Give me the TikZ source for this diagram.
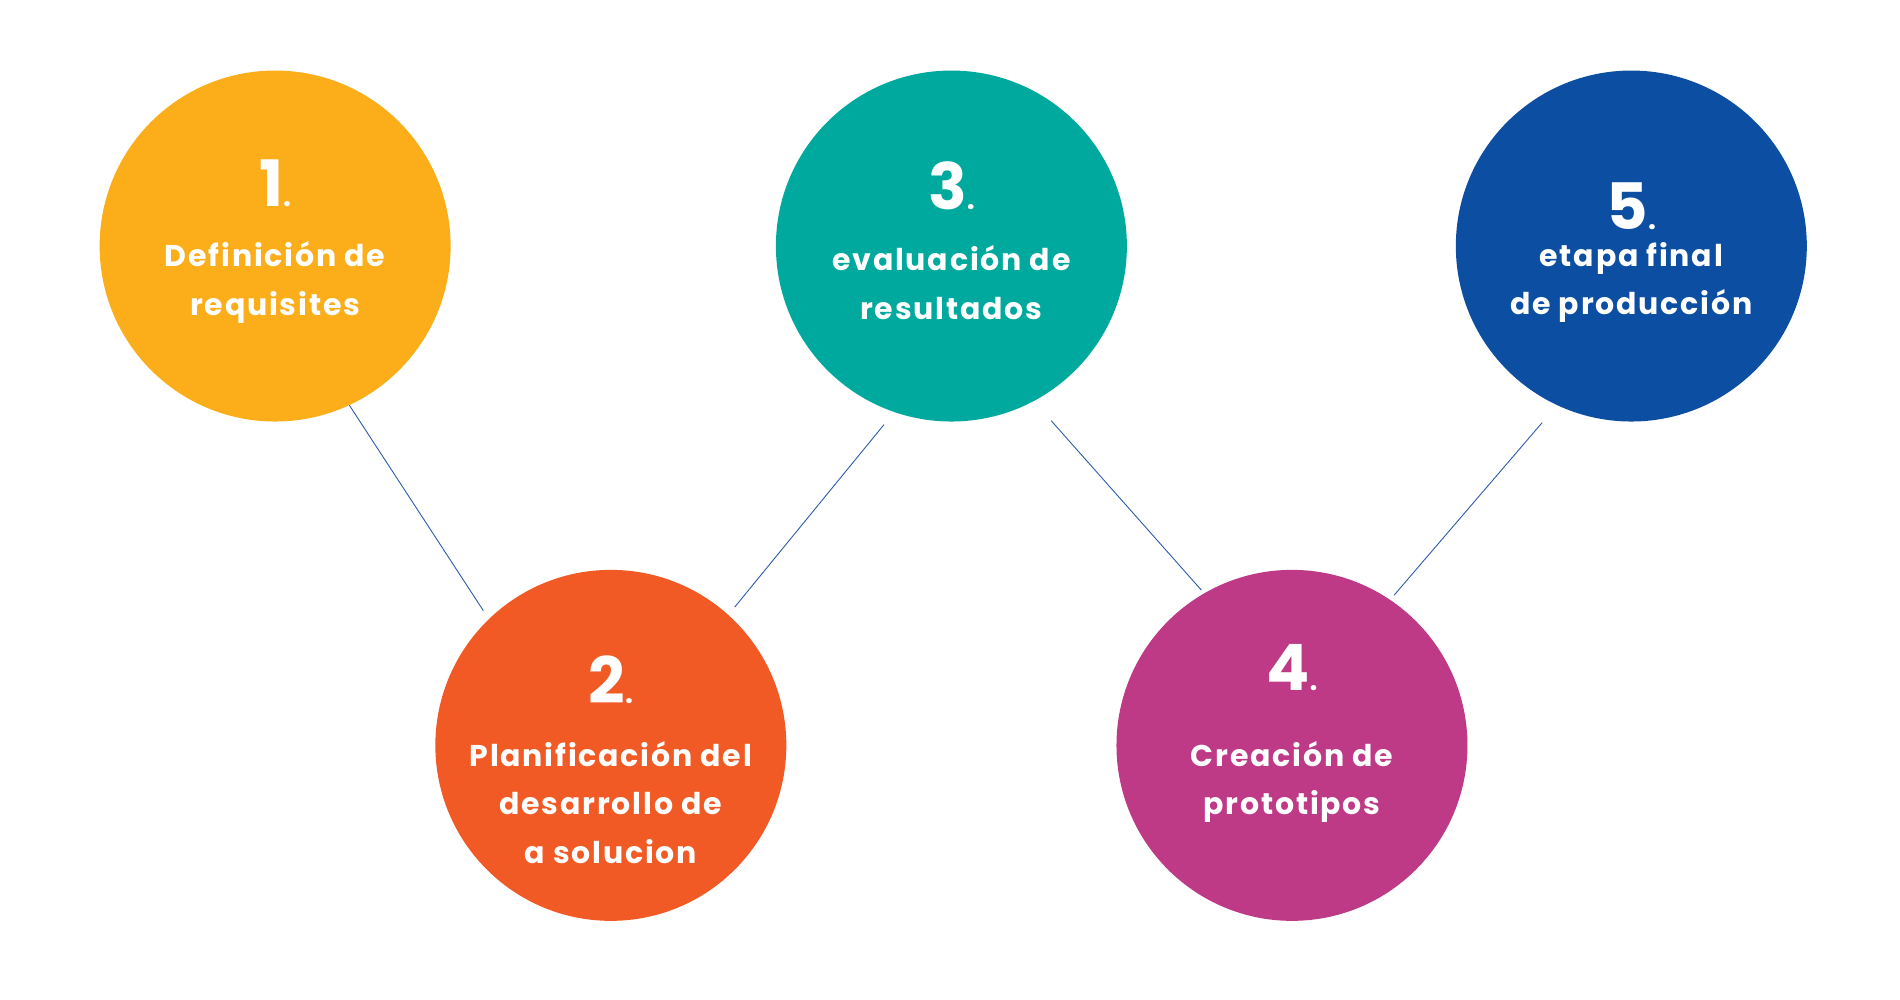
\documentclass[tikz,border=0pt]{standalone}
\usepackage{fontspec}
\setmainfont{Poppins}[LetterSpace=6]
\definecolor{cA}{HTML}{FBAE1A}
\definecolor{cB}{HTML}{F15A24}
\definecolor{cC}{HTML}{00A99D}
\definecolor{cD}{HTML}{BE3A86}
\definecolor{cE}{HTML}{0B4EA2}
\definecolor{ln}{HTML}{2E5AAC}
\tikzset{
 bub/.style={circle,minimum size=351pt,inner sep=0pt},
 num/.style={text=white,font=\bfseries\fontsize{64}{64}\selectfont},
 lab/.style={text=white,align=center,font=\bfseries\fontsize{30}{48.5}\selectfont},
 con/.style={draw=ln,line width=0.9pt}
}
\newcommand{\dotsm}{{\fontsize{28}{28}\selectfont .}}
\begin{document}
\begin{tikzpicture}[x=1.212pt,y=-1.212pt]
\useasboundingbox (0,0) rectangle (1567.7,825);
\node[bub,fill=cA] (c1) at (227,203) {};
\node[bub,fill=cB] (c2) at (504,615) {};
\node[bub,fill=cC] (c3) at (785,203) {};
\node[bub,fill=cD] (c4) at (1066,615) {};
\node[bub,fill=cE] (c5) at (1346,203) {};
\node[num] (n1) at (227,151) {1\dotsm};
\node[lab] (t1) at (227,233) {Definición de\\requisites};
\node[num] (n2) at (504,561) {2\dotsm};
\node[lab] (t2) at (504,662) {Planificación del\\desarrollo de\\a solucion};
\node[num] (n3) at (785,153) {3\dotsm};
\node[lab] (t3) at (785,233) {evaluación de\\resultados};
\node[num] (n4) at (1066,551) {4\dotsm};
\node[lab] (t4) at (1066,645) {Creación de\\prototipos};
\node[num] (n5) at (1346,170) {5\dotsm};
\node[lab] (t5) at (1346,233) {etapa final\\de producción};
\draw[con,shorten >=10pt] (c1.-65) -- (c2.134);
\draw[con,shorten <=10pt,shorten >=16pt] (c2.48) -- (c3.-109);
\draw[con,shorten <=26pt,shorten >=4pt] (c3.-62) -- (c4.120);
\draw[con,shorten <=6pt,shorten >=23pt] (c4.56) -- (c5.-115);
\end{tikzpicture}
\end{document}
